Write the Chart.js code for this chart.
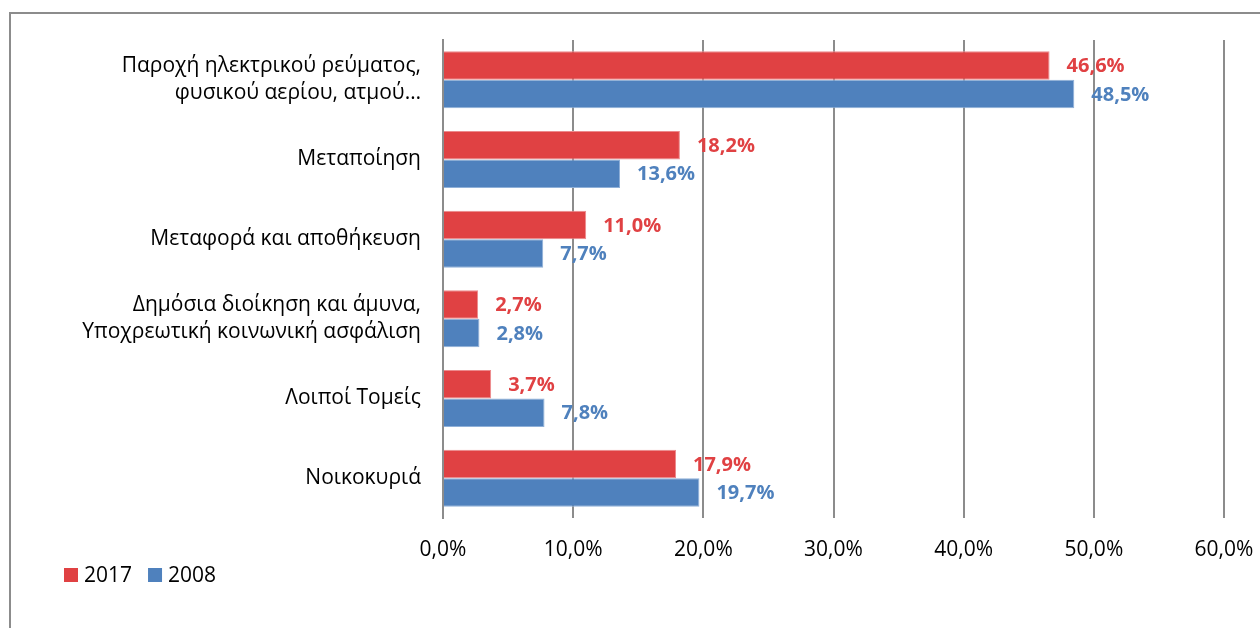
<!DOCTYPE html>
<html>
<head>
<meta charset="utf-8">
<script src="https://cdn.jsdelivr.net/npm/chart.js@4.4.1/dist/chart.umd.min.js"></script>
<style>
    html, body { margin: 0; padding: 0; background: #fff; overflow: hidden; }
    #wrap { position: relative; width: 1260px; height: 628px; }
    #frame {
        position: absolute; left: 9px; top: 12px; width: 1400px; height: 800px;
        border: 2px solid #8c8c8c; box-sizing: border-box;
    }
    canvas { position: absolute; left: 0; top: 0; }
</style>
</head>
<body>
<div id="wrap">
    <div id="frame"></div>
    <canvas id="grafico" width="1260" height="628"></canvas>
</div>
<script>
// Dados
const categorias = [
    ['Παροχή ηλεκτρικού ρεύματος,', 'φυσικού αερίου, ατμού…'],
    'Μεταποίηση',
    'Μεταφορά και αποθήκευση',
    ['Δημόσια διοίκηση και άμυνα,', 'Υποχρεωτική κοινωνική ασφάλιση'],
    'Λοιποί Τομείς',
    'Νοικοκυριά'
];
const valores2017 = [46.6, 18.2, 11.0, 2.7, 3.7, 17.9];
const valores2008 = [48.5, 13.6, 7.7, 2.8, 7.8, 19.7];
const ticksX = [0, 10, 20, 30, 40, 50, 60];

const FONTE = '"Open Sans", "Noto Sans", sans-serif';
const VERMELHO = '#e04143';
const AZUL = '#4f81bd';

const fmt = v => v.toFixed(1).replace('.', ',') + '%';

// rótulos no fim das barras
const rotulosPlugin = {
    id: 'rotulos',
    afterDatasetsDraw(chart) {
        const ctx = chart.ctx;
        ctx.save();
        ctx.font = 'bold 20px ' + FONTE;
        ctx.textBaseline = 'middle';
        ctx.textAlign = 'left';
        chart.data.datasets.forEach((ds, i) => {
            ctx.fillStyle = ds.backgroundColor;
            chart.getDatasetMeta(i).data.forEach((bar, j) => {
                ctx.fillText(fmt(ds.data[j]), bar.x + 17, bar.y + 1);
            });
        });
        ctx.restore();
    }
};

// legenda no canto inferior esquerdo
const legendaPlugin = {
    id: 'legenda',
    afterDraw(chart) {
        const ctx = chart.ctx;
        ctx.save();
        ctx.font = '21px ' + FONTE;
        ctx.textBaseline = 'middle';
        let x = 64;
        const y = 575;
        chart.data.datasets.forEach(ds => {
            ctx.fillStyle = ds.backgroundColor;
            ctx.fillRect(x, y - 7, 14, 14);
            ctx.fillStyle = '#000';
            ctx.fillText(ds.label, x + 20, y + 1);
            x += 20 + ctx.measureText(ds.label).width + 16;
        });
        ctx.restore();
    }
};

const ctx = document.getElementById('grafico').getContext('2d');
new Chart(ctx, {
    type: 'bar',
    data: {
        labels: categorias,
        datasets: [
            {
                label: '2017',
                data: valores2017,
                backgroundColor: VERMELHO,
                borderColor: '#ec8a8c',
                borderWidth: 1
            },
            {
                label: '2008',
                data: valores2008,
                backgroundColor: AZUL,
                borderColor: '#8fb0d8',
                borderWidth: 1
            }
        ]
    },
    options: {
        indexAxis: 'y',
        responsive: false,
        animation: false,
        categoryPercentage: 0.715,
        barPercentage: 1,
        layout: { padding: { top: 40, right: 36, left: 0, bottom: 0 } },
        plugins: {
            legend: { display: false },
            tooltip: { enabled: false }
        },
        scales: {
            x: {
                min: 0,
                max: 60,
                afterBuildTicks: scale => { scale.ticks = ticksX.map(v => ({ value: v })); },
                afterFit: scale => {
                    scale.height = 110;
                    scale.paddingLeft = 0;
                    scale.paddingRight = 0;
                },
                grid: { color: '#8c8c8c', lineWidth: 2, drawTicks: false },
                border: { display: false },
                ticks: {
                    color: '#000',
                    padding: 19,
                    font: { family: FONTE, size: 21 },
                    callback: v => fmt(v)
                }
            },
            y: {
                afterFit: scale => { scale.width = 443; },
                grid: { display: false, drawTicks: false },
                border: { display: true, color: '#8c8c8c', width: 2 },
                ticks: {
                    color: '#000',
                    padding: 22,
                    font: { family: FONTE, size: 21, lineHeight: 1.3 }
                }
            }
        }
    },
    plugins: [rotulosPlugin, legendaPlugin]
});
</script>
</body>
</html>
